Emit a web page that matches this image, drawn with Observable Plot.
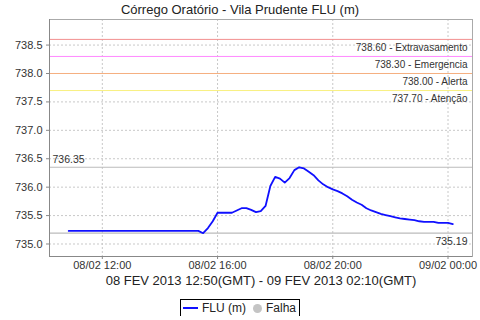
<!DOCTYPE html>
<html>
<head>
<meta charset="utf-8">
<script src="https://cdn.jsdelivr.net/npm/d3@7"></script>
<script src="https://cdn.jsdelivr.net/npm/@observablehq/plot@0.6"></script>
<style>
  body { margin: 0; background: #fff; font-family: "Liberation Sans", Arial, sans-serif; }
  #title { height: 18px; line-height: 20px; font-size: 13px; text-align: center; color: #222; white-space: nowrap; }
  #legend { margin-top: 6px; text-align: center; height: 20px; }
  #legend .box { display: inline-flex; align-items: center; border: 1px solid #000; height: 19px; padding: 0 3px 0 2px; font-size: 12px; color: #222; gap: 4px; box-sizing: border-box; }
  #legend .dot { width: 9px; height: 9px; border-radius: 50%; background: #c4c4c4; display: inline-block; margin-left: 3px; }
</style>
</head>
<body>
<div id="title"></div>
<div id="chart"></div>
<div id="legend"></div>
<script>
const chartTitle = "Córrego Oratório - Vila Prudente FLU (m)";
const subtitle = "08 FEV 2013 12:50(GMT) - 09 FEV 2013 02:10(GMT)";
const seriesName = "FLU (m)";
const failName = "Falha";

const times = [
  "2013-02-08T10:50Z","2013-02-08T11:00Z","2013-02-08T11:10Z","2013-02-08T11:20Z","2013-02-08T11:30Z","2013-02-08T11:40Z","2013-02-08T11:50Z",
  "2013-02-08T12:00Z","2013-02-08T12:10Z","2013-02-08T12:20Z","2013-02-08T12:30Z","2013-02-08T12:40Z","2013-02-08T12:50Z",
  "2013-02-08T13:00Z","2013-02-08T13:10Z","2013-02-08T13:20Z","2013-02-08T13:30Z","2013-02-08T13:40Z","2013-02-08T13:50Z",
  "2013-02-08T14:00Z","2013-02-08T14:10Z","2013-02-08T14:20Z","2013-02-08T14:30Z","2013-02-08T14:40Z","2013-02-08T14:50Z",
  "2013-02-08T15:00Z","2013-02-08T15:10Z","2013-02-08T15:20Z","2013-02-08T15:30Z","2013-02-08T15:40Z","2013-02-08T15:50Z",
  "2013-02-08T16:00Z","2013-02-08T16:10Z","2013-02-08T16:20Z","2013-02-08T16:30Z","2013-02-08T16:40Z","2013-02-08T16:50Z",
  "2013-02-08T17:00Z","2013-02-08T17:10Z","2013-02-08T17:20Z","2013-02-08T17:30Z","2013-02-08T17:40Z","2013-02-08T17:50Z",
  "2013-02-08T18:00Z","2013-02-08T18:10Z","2013-02-08T18:20Z","2013-02-08T18:30Z","2013-02-08T18:40Z","2013-02-08T18:50Z",
  "2013-02-08T19:00Z","2013-02-08T19:10Z","2013-02-08T19:20Z","2013-02-08T19:30Z","2013-02-08T19:40Z","2013-02-08T19:50Z",
  "2013-02-08T20:00Z","2013-02-08T20:10Z","2013-02-08T20:20Z","2013-02-08T20:30Z","2013-02-08T20:40Z","2013-02-08T20:50Z",
  "2013-02-08T21:00Z","2013-02-08T21:10Z","2013-02-08T21:20Z","2013-02-08T21:30Z","2013-02-08T21:40Z","2013-02-08T21:50Z",
  "2013-02-08T22:00Z","2013-02-08T22:10Z","2013-02-08T22:20Z","2013-02-08T22:30Z","2013-02-08T22:40Z","2013-02-08T22:50Z",
  "2013-02-08T23:00Z","2013-02-08T23:10Z","2013-02-08T23:20Z","2013-02-08T23:30Z","2013-02-08T23:40Z","2013-02-08T23:50Z",
  "2013-02-09T00:00Z","2013-02-09T00:10Z"
];
const values = [
  735.23,735.23,735.23,735.23,735.23,735.23,735.23,
  735.23,735.23,735.23,735.23,735.23,735.23,
  735.23,735.23,735.23,735.23,735.23,735.23,
  735.23,735.23,735.23,735.23,735.23,735.23,
  735.23,735.23,735.23,735.19,735.28,735.40,
  735.55,735.55,735.55,735.55,735.59,735.63,
  735.63,735.60,735.56,735.58,735.67,736.02,
  736.18,736.15,736.08,736.16,736.30,736.35,
  736.33,736.27,736.21,736.12,736.05,736.00,
  735.96,735.93,735.89,735.84,735.78,735.73,
  735.69,735.63,735.59,735.56,735.53,735.51,
  735.49,735.47,735.45,735.44,735.43,735.42,
  735.40,735.39,735.39,735.39,735.37,735.37,
  735.37,735.35
];

const thresholdValues = [738.60, 738.30, 738.00, 737.70];
const thresholdNames = ["Extravasamento", "Emergencia", "Alerta", "Atenção"];
const thresholdColors = ["#f29090", "#ff88ff", "#f5b080", "#f8f080"];

const yTicks = [735.0, 735.5, 736.0, 736.5, 737.0, 737.5, 738.0, 738.5];
const xTicks = ["2013-02-08T12:00Z", "2013-02-08T16:00Z", "2013-02-08T20:00Z", "2013-02-09T00:00Z"];
const xDomain = ["2013-02-08T10:10Z", "2013-02-09T00:51Z"];
const yDomain = [734.78, 738.95];

const data = times.map((t, i) => ({date: new Date(t), value: values[i]}));
const thresholds = thresholdValues.map((v, i) => ({value: v, label: `${v.toFixed(2)} - ${thresholdNames[i]}`, color: thresholdColors[i]}));
const maxVal = d3.max(values);
const minVal = d3.min(values);
const xt = xTicks.map(d => new Date(d));
const xd = xDomain.map(d => new Date(d));

document.getElementById("title").textContent = chartTitle;

const plot = Plot.plot({
  width: 480,
  height: 272,
  marginTop: 1,
  marginLeft: 49,
  marginRight: 8,
  marginBottom: 34,
  style: {fontFamily: "Liberation Sans, Arial, sans-serif", fontSize: "11px", color: "#333", background: "#fff"},
  x: {type: "utc", domain: xd},
  y: {domain: yDomain},
  marks: [
    Plot.gridY(yTicks, {stroke: "#c8c8c8", strokeOpacity: 1, strokeDasharray: "2,2"}),
    Plot.gridX(xt, {stroke: "#c8c8c8", strokeOpacity: 1, strokeDasharray: "2,2"}),
    Plot.ruleY(thresholds, {y: "value", stroke: "color", strokeWidth: 1}),
    Plot.text(thresholds, {y: "value", text: "label", frameAnchor: "right", textAnchor: "end", dx: -5, dy: 8, fontSize: 10, fill: "#333"}),
    Plot.ruleY([maxVal, minVal], {stroke: "#bbb", strokeWidth: 1.2}),
    Plot.text([maxVal], {y: d => d, text: d => d.toFixed(2), frameAnchor: "left", textAnchor: "start", dx: 3, dy: -8, fontSize: 10.5, fill: "#333"}),
    Plot.text([minVal], {y: d => d, text: d => d.toFixed(2), frameAnchor: "right", textAnchor: "end", dx: -5, dy: 8, fontSize: 10.5, fill: "#333"}),
    Plot.frame({stroke: "#aaa"}),
    Plot.ruleX([xd[0]], {stroke: "#888"}),
    Plot.ruleY([yDomain[0]], {stroke: "#888"}),
    Plot.axisY(yTicks, {tickFormat: d3.format(".1f"), tickSize: 3, tickPadding: 4, stroke: "#888", label: null}),
    Plot.axisX(xt, {tickFormat: d3.utcFormat("%d/%m %H:%M"), tickSize: 3, tickPadding: 2, stroke: "#888", label: null}),
    Plot.line(data, {x: "date", y: "value", stroke: "#1010ff", strokeWidth: 1.8}),
    Plot.text([subtitle], {text: d => d, frameAnchor: "bottom", dy: 28, fontSize: 13, fill: "#222"})
  ]
});
document.getElementById("chart").appendChild(plot);

const legend = document.getElementById("legend");
legend.innerHTML = `<span class="box"><svg width="15" height="4"><line x1="0" y1="2" x2="15" y2="2" stroke="#1010ff" stroke-width="2"/></svg><span></span><span class="dot"></span><span></span></span>`;
const spans = legend.querySelectorAll(".box > span:not(.dot)");
spans[0].textContent = seriesName;
spans[1].textContent = failName;
</script>
</body>
</html>
